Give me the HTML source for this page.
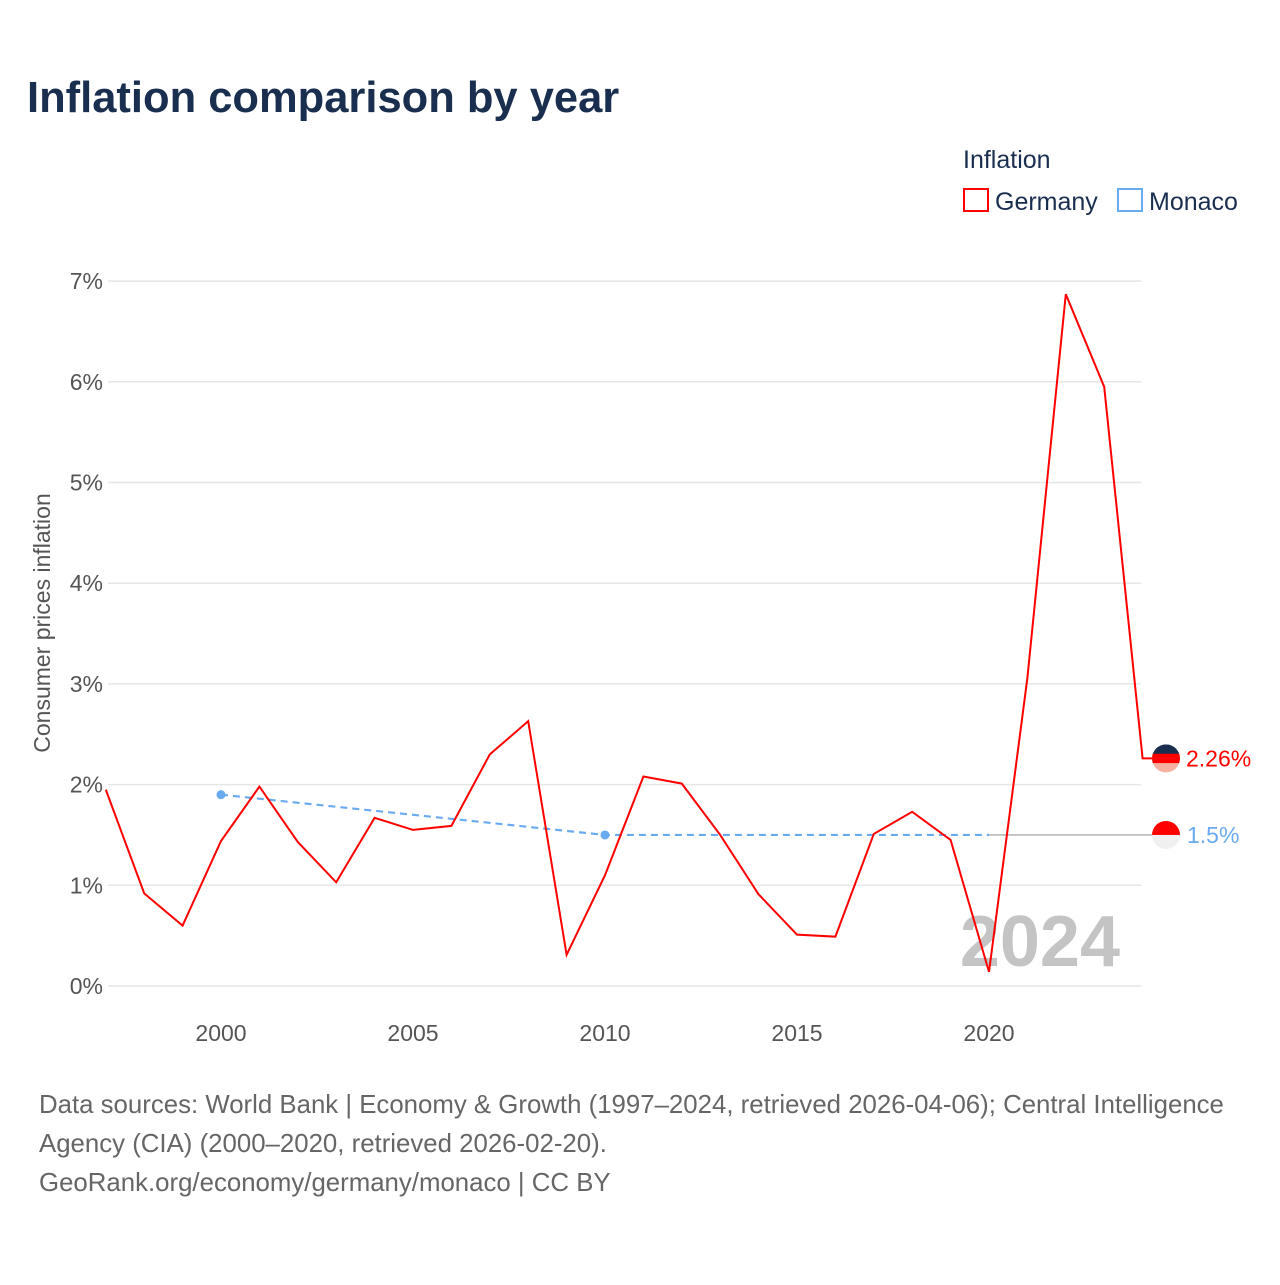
<!DOCTYPE html>
<html><head><meta charset="utf-8"><style>
body{margin:0;background:#fff;font-family:"Liberation Sans",sans-serif}
svg text{font-family:"Liberation Sans",sans-serif}
</style></head><body>
<svg width="1280" height="1280" xmlns="http://www.w3.org/2000/svg">
<text x="27" y="112" font-size="43.5" font-weight="bold" fill="#1a2e4f">Inflation comparison by year</text>
<g>
<text x="963" y="168" font-size="25" fill="#1a2e4f">Inflation</text>
<rect x="964" y="189" width="24" height="22" fill="none" stroke="#f00" stroke-width="2"/>
<text x="995" y="210" font-size="25" fill="#1a2e4f">Germany</text>
<rect x="1118" y="189" width="24" height="22" fill="none" stroke="#6aaaf0" stroke-width="2"/>
<text x="1149" y="210" font-size="25" fill="#1a2e4f">Monaco</text>
</g>
<text transform="translate(50,623) rotate(-90)" text-anchor="middle" font-size="23" fill="#555">Consumer prices inflation</text>
<g id="grid"></g><g id="yt"></g><g id="xt"></g>
<text x="1120" y="966" text-anchor="end" font-size="72" font-weight="bold" fill="#c4c4c4">2024</text>
<g id="series"></g>
<g font-size="25.8" fill="#666">
<text x="39" y="1113">Data sources: World Bank | Economy &amp; Growth (1997–2024, retrieved 2026-04-06); Central Intelligence</text>
<text x="39" y="1152">Agency (CIA) (2000–2020, retrieved 2026-02-20).</text>
<text x="39" y="1191">GeoRank.org/economy/germany/monaco | CC BY</text>
</g>
</svg>
<script>
const germanyYears=[1997,1998,1999,2000,2001,2002,2003,2004,2005,2006,2007,2008,2009,2010,2011,2012,2013,2014,2015,2016,2017,2018,2019,2020,2021,2022,2023,2024];
const germanyValues=[1.95,0.92,0.60,1.44,1.98,1.43,1.03,1.67,1.55,1.59,2.30,2.63,0.31,1.10,2.08,2.01,1.50,0.91,0.51,0.49,1.51,1.73,1.45,0.14,3.06,6.87,5.95,2.26];
const monacoYears=[2000,2010,2020];
const monacoValues=[1.9,1.5,1.5];
const yTicks=[0,1,2,3,4,5,6,7];
const xTicks=[2000,2005,2010,2015,2020];
const NS="http://www.w3.org/2000/svg";
const X=y=>221+(y-2000)*38.4, Y=v=>986-v*100.7;
function mk(p,t,a){const e=document.createElementNS(NS,t);for(const k in a)e.setAttribute(k,a[k]);document.getElementById(p)?document.getElementById(p).appendChild(e):p.appendChild(e);return e;}
yTicks.forEach(t=>{
 const l=mk('grid','line',{x1:108,x2:1141,y1:Y(t),y2:Y(t),stroke:'#e6e6e6','stroke-width':1.5});
 
 
 const tx=mk('yt','text',{x:103,y:Y(t)+8,'text-anchor':'end','font-size':23,fill:'#555'});
 tx.textContent=t+'%';
 
 
});
xTicks.forEach(t=>{
 const tx=mk('xt','text',{x:X(t),y:1041,'text-anchor':'middle','font-size':23,fill:'#555'});
 tx.textContent=t;
 
 
});
const lastM=monacoValues[monacoValues.length-1];
const gl=mk('series','line',{x1:X(2020),x2:1152,y1:Y(lastM),y2:Y(lastM),stroke:'#999','stroke-width':1.2});


const mp=mk('series','polyline',{points:monacoYears.map((y,i)=>X(y)+','+Y(monacoValues[i])).join(' '),fill:'none',stroke:'#6aaaf0','stroke-width':2.2,'stroke-dasharray':'7,5'});


monacoYears.slice(0,2).forEach((y,i)=>{
 const c=mk('series','circle',{cx:X(y),cy:Y(monacoValues[i]),r:4.5,fill:'#6aaaf0'});
 
 
});
const pts=germanyYears.map((y,i)=>X(y)+','+Y(germanyValues[i]));
const lastG=germanyValues[germanyValues.length-1];
pts.push('1152,'+Y(lastG));
const gp=mk('series','polyline',{points:pts.join(' '),fill:'none',stroke:'#f00','stroke-width':2});


function badge(cy,cols,name){
 const g=mk('series','g',{});
 
 
 const id='c'+name;
 const cp=mk(g,'clipPath',{id:id});mk(cp,'circle',{cx:1166,cy:cy,r:14});
 const h=28/cols.length;
 cols.forEach((c,i)=>mk(g,'rect',{x:1152,y:cy-14+i*h,width:28,height:h+0.5,fill:c,'clip-path':'url(#'+id+')'}));
}
badge(Y(lastG),['#1a2e4f','#f00','#f5b0a0'],'germany-flag');
badge(Y(lastM),['#f00','#f0f0f0'],'monaco-flag');
const t1=mk('series','text',{x:1186,y:Y(lastG)+8,'font-size':23,fill:'#f00'});
t1.textContent=lastG+'%';


const t2=mk('series','text',{x:1187,y:Y(lastM)+8,'font-size':23,fill:'#6aaaf0'});
t2.textContent=lastM+'%';


</script>
</body></html>
